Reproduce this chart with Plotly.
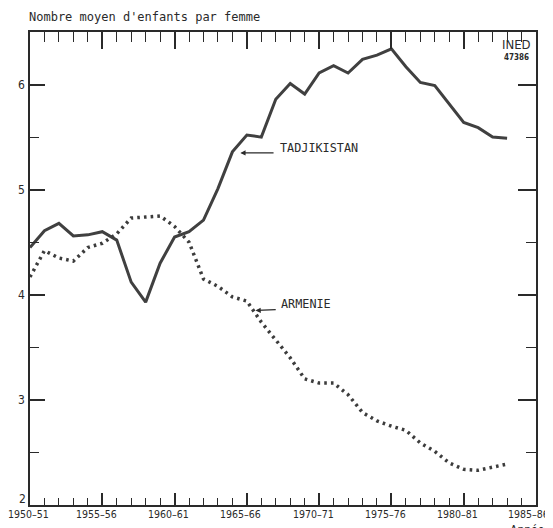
import plotly.graph_objects as go

years = list(range(1950, 1984))
tadjikistan = [4.45, 4.61, 4.68, 4.56, 4.57, 4.60, 4.52, 4.12, 3.93, 4.30,
               4.55, 4.60, 4.71, 5.01, 5.36, 5.52, 5.50, 5.86, 6.01, 5.91,
               6.11, 6.18, 6.11, 6.24, 6.28, 6.34, 6.17, 6.02, 5.99, 5.81,
               5.64, 5.59, 5.50, 5.49]
armenie = [4.17, 4.42, 4.35, 4.32, 4.45, 4.49, 4.58, 4.73, 4.74, 4.75,
           4.65, 4.50, 4.15, 4.08, 3.98, 3.94, 3.74, 3.57, 3.40, 3.20,
           3.16, 3.16, 3.05, 2.88, 2.80, 2.75, 2.71, 2.59, 2.51, 2.40,
           2.34, 2.33, 2.36, 2.39]
xtick_vals = [1950, 1955, 1960, 1965, 1970, 1975, 1980, 1985]
xtick_text = ["1950–51", "1955–56", "1960–61", "1965–66", "1970–71",
              "1975–76", "1980–81", "1985–86"]
ytick_vals = [2, 3, 4, 5, 6]
ytick_text = ["2", "3", "4", "5", "6"]

MONO = "DejaVu Sans Mono, Liberation Mono, monospace"
NARROW = "Liberation Sans Narrow, DejaVu Sans Condensed, Arial Narrow, sans-serif"
INK = "#2a2a2a"
LINE = "#404040"

# the page body has an 8px margin: plot area in page px is x 30..536, y 32..505
PW, PH = 506, 473

fig = go.Figure()
fig.add_trace(go.Scatter(x=years, y=tadjikistan, mode="lines",
                         line=dict(color=LINE, width=3), name="TADJIKISTAN",
                         showlegend=False, hoverinfo="skip"))
fig.add_trace(go.Scatter(x=years, y=armenie, mode="lines",
                         line=dict(color="#3c3c3c", width=3.5, dash="2.6px,4.1px"),
                         name="ARMENIE", showlegend=False, hoverinfo="skip"))
# invisible trace to activate the top / right mirror axes
fig.add_trace(go.Scatter(x=years, y=armenie, xaxis="x2", yaxis="y2",
                         mode="lines", line=dict(width=0), opacity=0,
                         showlegend=False, hoverinfo="skip"))

axis_common = dict(showgrid=False, zeroline=False, showline=True,
                   linecolor=INK, linewidth=2, ticks="inside",
                   tickcolor=INK, tickwidth=1.6)

fig.update_layout(
    width=545, height=520,
    margin=dict(l=22, r=17, t=24, b=23),
    paper_bgcolor="white", plot_bgcolor="white",
    xaxis=dict(range=[1950, 1985], tickmode="array", tickvals=xtick_vals,
               ticklen=12, showticklabels=False,
               minor=dict(tickmode="linear", tick0=1950, dtick=1, ticklen=7,
                          ticks="inside", tickcolor=INK, tickwidth=1.4),
               **axis_common),
    xaxis2=dict(range=[1950, 1985], overlaying="x", side="top",
                tickmode="linear", tick0=1950, dtick=5, ticklen=17,
                showticklabels=False,
                minor=dict(tickmode="linear", tick0=1950, dtick=1, ticklen=10,
                           ticks="inside", tickcolor=INK, tickwidth=1.4),
                **axis_common),
    yaxis=dict(range=[2, 6.5], tickmode="array", tickvals=ytick_vals,
               ticklen=15, showticklabels=False,
               minor=dict(tickmode="linear", tick0=2, dtick=0.5, ticklen=9,
                          ticks="inside", tickcolor=INK, tickwidth=1.4),
               **axis_common),
    yaxis2=dict(range=[2, 6.5], overlaying="y", side="right", anchor="x",
                tickmode="array", tickvals=ytick_vals, ticklen=18,
                showticklabels=False,
                minor=dict(tickmode="linear", tick0=2, dtick=0.5, ticklen=10,
                           ticks="inside", tickcolor=INK, tickwidth=1.4),
                **axis_common),
)

annotations = [
    dict(text="Nombre moyen d'enfants par femme", xref="paper", yref="paper",
         x=0, y=1 + 15 / PH, xanchor="left", yanchor="middle", showarrow=False,
         xshift=-3, font=dict(family=MONO, size=12, color=INK)),
    # series labels
    dict(text="TADJIKISTAN", xref="x", yref="y", x=1967.15, y=5.40,
         xanchor="left", yanchor="middle", showarrow=False,
         font=dict(family=MONO, size=11.8, color=INK)),
    dict(text="", xref="x", yref="y", x=1964.55, y=5.35, ax=1966.95, ay=5.35,
         axref="x", ayref="y", showarrow=True, arrowhead=2, arrowsize=0.8,
         arrowwidth=1.3, arrowcolor=INK),
    dict(text="ARMENIE", xref="x", yref="y", x=1967.25, y=3.91,
         xanchor="left", yanchor="middle", showarrow=False,
         font=dict(family=MONO, size=11.8, color=INK)),
    dict(text="", xref="x", yref="y", x=1965.6, y=3.85, ax=1967.1, ay=3.86,
         axref="x", ayref="y", showarrow=True, arrowhead=2, arrowsize=0.8,
         arrowwidth=1.3, arrowcolor=INK),
    # logo
    dict(text="INED", xref="paper", yref="paper", x=(516 - 30) / PW,
         y=1 - (45 - 32) / PH, xanchor="center", yanchor="middle",
         showarrow=False, font=dict(family=NARROW, size=13, color=INK)),
    dict(text="<b>47386</b>", xref="paper", yref="paper", x=(516 - 30) / PW,
         y=1 - (58 - 32) / PH, xanchor="center", yanchor="middle",
         showarrow=False, font=dict(family=NARROW, size=8, color=INK)),
    dict(text="Années", xref="paper", yref="paper", x=(530 - 30) / PW,
         y=-(521 - 505) / PH, xanchor="center", yanchor="top",
         showarrow=False, font=dict(family=NARROW, size=12, color=INK)),
]
# y tick labels
for v, t in zip(ytick_vals, ytick_text):
    if v == ytick_vals[0]:
        annotations.append(dict(text=t, xref="paper", yref="y", x=0, y=v,
                                xanchor="right", yanchor="bottom", xshift=-2,
                                yshift=-3, showarrow=False,
                                font=dict(family=NARROW, size=12, color=INK)))
    else:
        annotations.append(dict(text=t, xref="paper", yref="y", x=0, y=v,
                                xanchor="right", yanchor="middle", xshift=-3,
                                showarrow=False,
                                font=dict(family=NARROW, size=12, color=INK)))
# x tick labels (drawn as annotations so the first one is not clipped)
for v, t in zip(xtick_vals, xtick_text):
    if v == xtick_vals[0]:
        shift = -2
    elif v == xtick_vals[-1]:
        shift = -8
    else:
        shift = -6
    annotations.append(dict(text=t, xref="x", yref="paper", x=v,
                            y=-(506 - 505) / PH, xanchor="center",
                            yanchor="top", showarrow=False, xshift=shift,
                            font=dict(family=NARROW, size=10.5, color=INK)))
fig.update_layout(annotations=annotations)

fig.write_html("out.html")
